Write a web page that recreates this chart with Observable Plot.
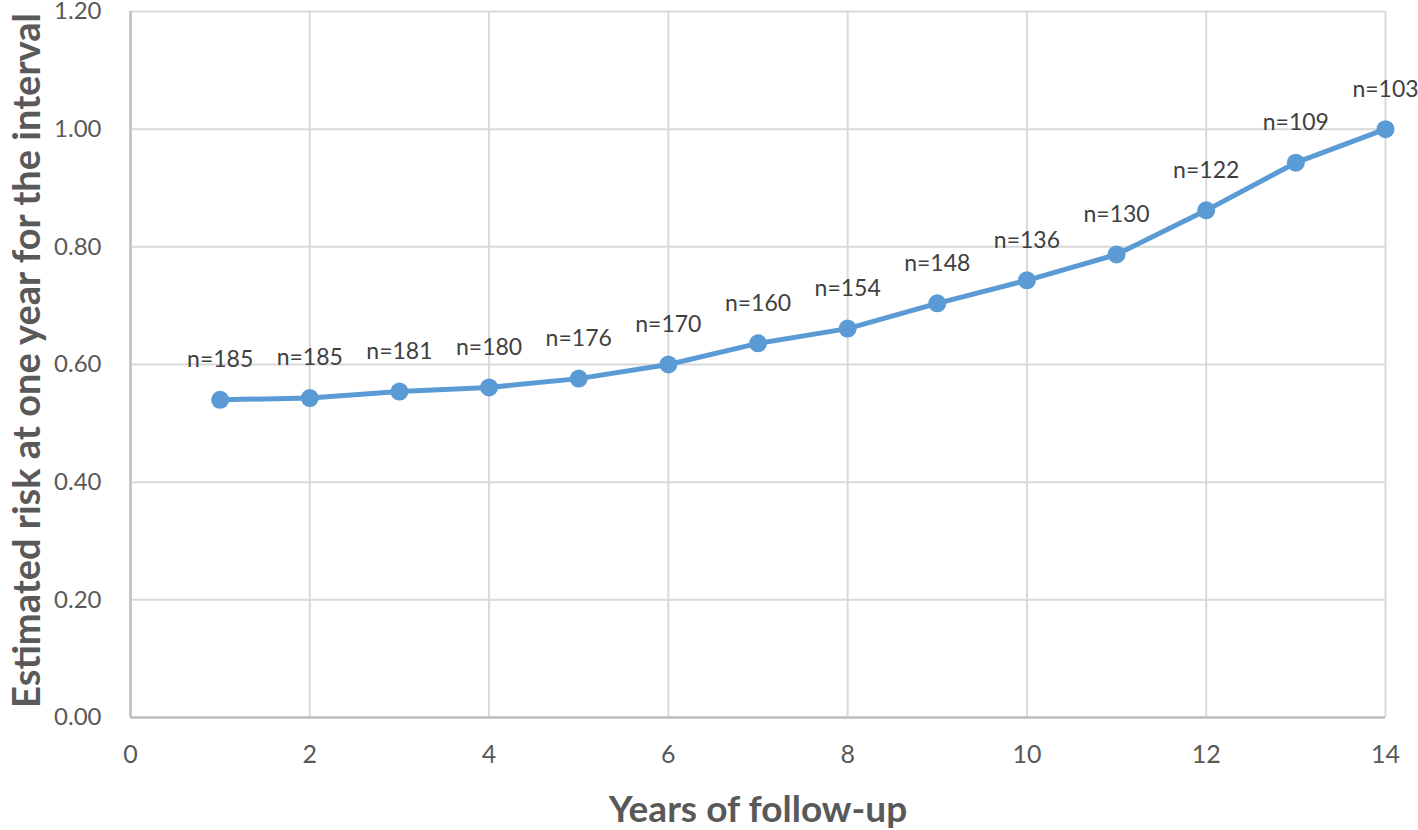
<!DOCTYPE html>
<html>
<head>
<meta charset="utf-8">
<script src="https://cdn.jsdelivr.net/npm/d3@7"></script>
<script src="https://cdn.jsdelivr.net/npm/@observablehq/plot@0.6"></script>
<style>
  html, body { margin: 0; padding: 0; background: #fff; }
  #chart svg { display: block; }
</style>
</head>
<body>
<div id="chart"></div>
<script>
const years = [1, 2, 3, 4, 5, 6, 7, 8, 9, 10, 11, 12, 13, 14];
const risk = [0.540, 0.543, 0.554, 0.561, 0.576, 0.600, 0.636, 0.661, 0.704, 0.743, 0.787, 0.862, 0.943, 1.000];
const nLabels = ["n=185", "n=185", "n=181", "n=180", "n=176", "n=170", "n=160", "n=154", "n=148", "n=136", "n=130", "n=122", "n=109", "n=103"];
const xTicks = [0, 2, 4, 6, 8, 10, 12, 14];
const yTicks = [0, 0.2, 0.4, 0.6, 0.8, 1.0, 1.2];
const xTitle = "Years of follow-up";
const yTitle = "Estimated risk at one year for the interval";

const data = years.map((y, i) => ({year: y, risk: risk[i], label: nLabels[i]}));

const font = "Lato, 'Open Sans', 'DejaVu Sans', sans-serif";
const textColor = "#595959";

const chart = Plot.plot({
  width: 1418,
  height: 830,
  marginLeft: 130,
  marginRight: 33,
  marginTop: 11,
  marginBottom: 113,
  style: {fontFamily: font, background: "#fff", color: textColor},
  x: {domain: [0, 14]},
  y: {domain: [0, 1.2]},
  marks: [
    Plot.gridY(yTicks, {stroke: "#d9d9d9", strokeOpacity: 1, strokeWidth: 2}),
    Plot.gridX(xTicks, {stroke: "#d9d9d9", strokeOpacity: 1, strokeWidth: 2}),
    Plot.ruleX([0], {stroke: "#bfbfbf", strokeWidth: 2.5}),
    Plot.ruleY([0], {stroke: "#bfbfbf", strokeWidth: 2.5}),
    Plot.axisY(yTicks, {
      tickSize: 0, tickPadding: 29, fontSize: 24, fill: textColor,
      tickFormat: d => d.toFixed(2), label: null
    }),
    Plot.axisX(xTicks, {
      tickSize: 0, tickPadding: 28, fontSize: 25, fill: textColor,
      tickFormat: d => String(d), label: null
    }),
    Plot.text([yTitle], {
      frameAnchor: "left", dx: -103, dy: -4, rotate: -90, fontSize: 38, fontWeight: "bold",
      fill: textColor, textAnchor: "middle"
    }),
    Plot.text([xTitle], {
      frameAnchor: "bottom", dy: 104, fontSize: 37, fontWeight: "bold",
      fill: textColor, textAnchor: "middle"
    }),
    Plot.line(data, {x: "year", y: "risk", stroke: "#5b9bd5", strokeWidth: 5}),
    Plot.dot(data, {x: "year", y: "risk", r: 9, fill: "#5b9bd5", stroke: "none"}),
    Plot.text(data, {x: "year", y: "risk", text: "label", dy: -40, fontSize: 23, fill: "#404040"})
  ]
});

document.getElementById("chart").appendChild(chart);
</script>
</body>
</html>
